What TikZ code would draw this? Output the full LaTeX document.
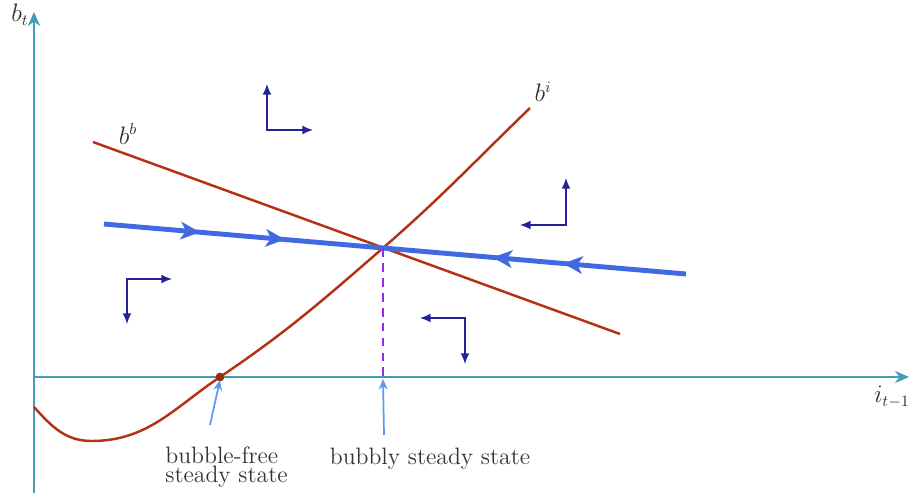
\documentclass[tikz,border=0pt]{standalone}
\usepackage{amsmath}
\usetikzlibrary{arrows.meta,decorations.markings}
\definecolor{axiscol}{RGB}{70,155,185}
\definecolor{curvecol}{RGB}{180,50,20}
\definecolor{saddlecol}{RGB}{65,105,225}
\definecolor{flowcol}{RGB}{35,35,150}
\definecolor{notecol}{RGB}{100,150,240}
\definecolor{dashcol}{RGB}{150,40,240}

\begin{document}
\begin{tikzpicture}[
    axis/.style={line width=1.1pt, axiscol, -{Stealth[length=8pt,width=7pt]}},
    curve/.style={line width=1.4pt, curvecol},
    saddle/.style={line width=2.8pt, saddlecol, postaction={decorate},
      decoration={markings,
        mark=at position 0.165 with {\arrow{Stealth[length=11pt,width=10pt,inset=3pt]}},
        mark=at position 0.311 with {\arrow{Stealth[length=11pt,width=10pt,inset=3pt]}},
        mark=at position 0.668 with {\arrowreversed{Stealth[length=11pt,width=10pt,inset=3pt]}},
        mark=at position 0.789 with {\arrowreversed{Stealth[length=11pt,width=10pt,inset=3pt]}}}},
    flow/.style={line width=0.9pt, flowcol, {Latex[length=6pt,width=5pt]}-{Latex[length=6pt,width=5pt]}},
    note/.style={line width=1pt, notecol, -{Stealth[length=6pt,width=5pt]}},
    lbl/.style={font=\fontsize{13.5}{11}\selectfont, text=black!80},
  ]
    \useasboundingbox (-0.68,-2.32) rectangle (17.52,7.54);
    % axes
    \coordinate (O) at (0,0);
    \coordinate (Ybot) at (0,-2.32);
    \coordinate (Ytop) at (0,7.3);
    \coordinate (Xend) at (17.5,0);
    \draw[axis] (Ybot) -- (Ytop);
    \draw[axis] (O) -- (Xend);
    \node[lbl] (lbt) at (-0.28,7.24) {$b_t$};
    \node[lbl] (lit) at (17.16,-0.4) {$i_{t-1}$};
    % curves
    \coordinate (bb1) at (1.18,4.7);
    \coordinate (bb2) at (11.72,0.86);
    \coordinate (E) at (6.98,2.58);
    \coordinate (F) at (3.72,0);
    \coordinate (bi0) at (0,-0.6);
    \coordinate (bi1) at (1.15,-1.28);
    \coordinate (bi2) at (9.92,5.38);
    \coordinate (S1) at (1.4,3.06);
    \coordinate (S2) at (13.04,2.06);
    \draw[curve] (bb1) -- (bb2);
    \draw[curve] (bi0) to[out=-48,in=180] (bi1) to[out=0,in=-146] (F)
      to[out=34,in=-139] (E) to[out=41,in=-136] (bi2);
    \draw[saddle] (S1) -- (S2);
    \draw[line width=1.2pt, dashcol, dash pattern=on 5pt off 3.5pt] (E) -- (E |- O);
    \fill[curvecol!85!black] (F) circle (2.5pt);
    \node[lbl] (lbb) at (1.88,4.86) {$b^b$};
    \node[lbl] (lbi) at (10.18,5.7) {$b^i$};
    % directions
    \draw[flow] (4.66,4.94) ++(0,0.92) -- ++(0,-0.92) -- ++(0.92,0);
    \draw[flow] (10.64,3.04) ++(0,0.94) -- ++(0,-0.94) -- ++(-0.92,0);
    \draw[flow] (1.86,1.96) ++(0.9,0) -- ++(-0.9,0) -- ++(0,-0.9);
    \draw[flow] (8.62,1.18) ++(-0.9,0) -- ++(0.9,0) -- ++(0,-0.92);
    % steady states
    \node[lbl, align=left] (bf) at (3.85,-1.8) {bubble-free\\steady state};
    \node[lbl] (bs) at (7.92,-1.64) {bubbly steady state};
    \coordinate (bfa) at (3.52,-0.96);
    \coordinate (bsa) at (7.0,-1.16);
    \draw[note] (bfa) -- ([shift={(0,-0.06)}]F);
    \draw[note] (bsa) -- ([shift={(0,-0.04)}]E |- O);
\end{tikzpicture}
\end{document}
